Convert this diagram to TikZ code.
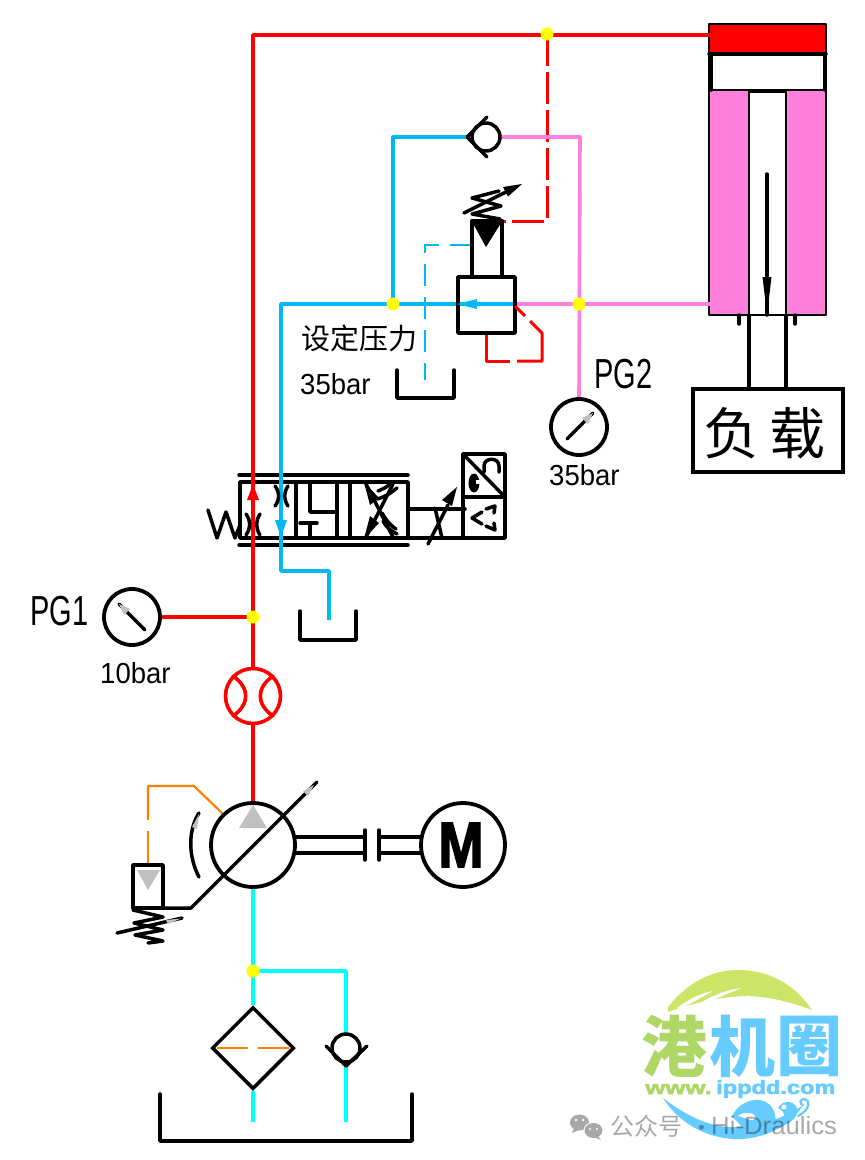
\documentclass[tikz,border=0pt]{standalone}
\usepackage{fontspec}
\usetikzlibrary{shapes.geometric}
\setmainfont{Liberation Sans}
\newfontfamily\cjk{Noto Sans CJK SC}
\newfontfamily\heavy[BoldFeatures={FakeBold=2.5}]{Liberation Sans}
\definecolor{pinkL}{HTML}{FF80DC}
\definecolor{blueL}{HTML}{00B9F2}
\definecolor{cyanL}{HTML}{00FFFF}
\definecolor{yellowJ}{HTML}{FFFF00}
\definecolor{orangeL}{HTML}{FF8000}
\definecolor{greyT}{HTML}{C0C0C0}
\definecolor{logoG}{HTML}{AED768}
\definecolor{logoL}{HTML}{CCE566}
\definecolor{logoB}{HTML}{66CCFF}
\definecolor{markG}{HTML}{A8A8A8}
\tikzset{
  blk/.style={draw=black,line width=3.5pt,line cap=round,line join=round},
  thin blk/.style={draw=black,line width=2pt,line cap=round,line join=round},
  redl/.style={draw=red,line width=3.6pt,line join=round},
  pinkl/.style={draw=pinkL,line width=3.6pt,line join=round},
  bluel/.style={draw=blueL,line width=3.6pt,line join=round},
  cyanl/.style={draw=cyanL,line width=3.6pt,line join=round},
  redpilot/.style={draw=red,line width=3pt,line join=round},
  ring/.style={circle,draw=black,line width=3.8pt,fill=white,inner sep=0pt},
  junc/.style={circle,fill=yellowJ,inner sep=0pt,minimum size=13pt},
  lab/.style={inner sep=0pt,font=\fontsize{29}{29}\selectfont,xscale=.95},
  pglab/.style={inner sep=0pt,font=\fontsize{42}{42}\selectfont,xscale=.69},
}
\begin{document}
\begin{tikzpicture}[x=1pt,y=-1pt]
\useasboundingbox (0,0) rectangle (865,1160);
\fill[white] (0,0) rectangle (865,1160);

% named points
\coordinate (j1) at (253,617);
\coordinate (j2) at (393,304);
\coordinate (j3) at (579,304);
\coordinate (j4) at (253,971);
\coordinate (j5) at (547,34);
\coordinate (cylR) at (710,35);
\coordinate (cylP) at (710,304);
\coordinate (rvR) at (515,304);
\coordinate (rvP) at (502,221);

% ---------- logo
\fill[logoL] (668,1007) .. controls (688,982) and (712,970) .. (738,970)
  .. controls (770,970) and (795,985) .. (812,1010)
  .. controls (795,1004) and (775,997) .. (748,996)
  .. controls (725,996) and (695,1002) .. (668,1012) -- cycle;
\fill[white] (677,1008) .. controls (690,998) and (702,993) .. (713,991) .. controls (702,997) and (692,1003) .. (680,1009) -- cycle;
\fill[white] (702,1002) .. controls (715,994) and (730,989) .. (742,988) .. controls (730,992) and (718,998) .. (707,1003) -- cycle;
\fill[white] (735,1001) .. controls (740,998) and (746,996) .. (749,995) .. controls (746,997) and (742,1000) .. (738,1002) -- cycle;
\node[inner sep=0pt,text=logoG,font=\cjk\bfseries\fontsize{66}{66}\selectfont] (lg1) at (674,1046) {港};
\node[inner sep=0pt,text=logoB,font=\cjk\bfseries\fontsize{66}{66}\selectfont] (lg2) at (742,1046) {机};
\node[inner sep=0pt,text=logoB,font=\cjk\bfseries\fontsize{66}{66}\selectfont] (lg3) at (809,1046) {圈};
\node[inner sep=0pt,anchor=west,font=\heavy\bfseries\fontsize{19}{19}\selectfont,text=logoG,xscale=1.36] (lg4) at (645,1089) {www.};
\node[inner sep=0pt,anchor=west,font=\heavy\bfseries\fontsize{19}{19}\selectfont,text=logoB,xscale=1.24] (lg5) at (716,1089) {ippdd.com};
\fill[logoB] (663,1098) .. controls (685,1115) and (710,1128) .. (735,1127)
  .. controls (760,1126) and (785,1118) .. (803,1105)
  .. controls (790,1128) and (760,1140) .. (735,1139)
  .. controls (705,1138) and (678,1122) .. (663,1098) -- cycle;
\fill[white] (672,1100) .. controls (685,1107) and (700,1116) .. (718,1121) .. controls (700,1119) and (685,1110) .. (672,1100) -- cycle;
\fill[logoB] (732,1116) .. controls (738,1104) and (750,1099) .. (760,1100)
  .. controls (772,1102) and (778,1113) .. (775,1130) -- (745,1130) -- cycle;
\fill[white] (738,1116) .. controls (744,1111) and (755,1112) .. (756,1118) .. controls (752,1122) and (748,1119) .. (745,1118) -- cycle;
\fill[logoB] (776,1128) .. controls (788,1120) and (786,1112) .. (778,1108) .. controls (782,1100) and (794,1100) .. (797,1108) .. controls (799,1116) and (792,1124) .. (776,1128) -- cycle;
\fill[white] (784,1107) circle[radius=2.5pt];
\draw[logoB,line width=2.2pt,line cap=round] (798,1116) .. controls (810,1110) and (811,1100) .. (804,1099) .. controls (800,1099) and (799,1104) .. (803,1105);

% ---------- cylinder
\fill[red] (709,24) rectangle (826,54);
\fill[pinkL] (709,90) rectangle (749,315);
\fill[pinkL] (786,90) rectangle (826,315);
\draw[thin blk] (709,24) rectangle (826,315);
\draw[blk] (711,54) -- (711,90) (825,54) -- (825,90);
\draw[blk] (709,54) -- (826,54);
\draw[blk,line cap=butt] (749,91) -- (786,91);
\draw[thin blk] (709,90) -- (749,90) (786,90) -- (826,90);
\draw[thin blk] (749,90) -- (749,315) (786,90) -- (786,315);
\draw[blk] (739,315) -- (739,324) (795,315) -- (795,324);
\draw[blk,line cap=butt] (749,315) -- (749,388) (786,315) -- (786,388);
\draw[blk] (767,174) -- (767,315);
\fill[black] (762.5,277) -- (771.5,277) -- (767,315) -- cycle;
\node[draw=black,line width=3.6pt,fill=white,minimum width=150pt,minimum height=83pt,inner sep=0pt] (load) at (768,430.5) {};
\node[inner sep=0pt,font=\cjk\fontsize{56}{56}\selectfont] (t1) at (731,433) {负};
\node[inner sep=0pt,font=\cjk\fontsize{56}{56}\selectfont] (t2) at (797,433) {载};

% ---------- supply lines
\node[circle,draw=red,line width=3.6pt,inner sep=0pt,minimum size=55pt] (meter) at (253,696) {};
\node[ring,minimum size=84pt] (pump) at (253,845) {};
\node[ring,minimum size=84pt] (motor) at (463,845) {};
\draw[redl] (pump.north) -- (meter.south);
\draw[redl] (meter.north) -- (253,35) -- (cylR);
\draw[redpilot,dash pattern=on 32pt off 6pt] (j5) -- (547,221) -- (rvP);
\draw[draw=red,line width=3.6pt,line cap=round] (233,676) .. controls (250,688) and (250,704) .. (233,716);
\draw[draw=red,line width=3.6pt,line cap=round] (273,676) .. controls (256,688) and (256,704) .. (273,716);

% ---------- pressure line
\draw[pinkl] (rvR) -- (cylP);
\node[ring,minimum size=56pt] (pg2) at (579,427) {};
\draw[pinkl] (pg2.north) -- (580,137) -- (500,137);
\draw[bluel] (rvR) -- (281,304) -- (281,571) -- (329,571) -- (329,620);
\draw[bluel] (j2) -- (393,137) -- (467,137);
\draw[draw=blueL,line width=2.2pt,dash pattern=on 22pt off 11pt] (472,245) -- (425,245) -- (425,380);

% ---------- check valve top
\draw[blk] (486,137) circle[radius=14pt];
\draw[blk] (487,117) -- (467,137) -- (487,157);

% ---------- relief valve
\draw[blk] (458,277) rectangle (515,333);
\fill[blueL] (457,304) -- (477,299) -- (477,309) -- cycle;
\draw[blk,line cap=butt] (472,220) -- (472,277) (502,220) -- (502,277);
\fill[black] (470.5,219) -- (503.5,219) -- (486,247) -- cycle;
\draw[redpilot] (486,335) -- (486,361) -- (510,361);
\draw[redpilot] (517,361) -- (542,361) -- (542,333) -- (530,321);
\draw[redpilot] (525,316) -- (515,306);
\draw[blk] (500,219) -- (472,214) -- (501,206) -- (472,198) -- (499,191);
\draw[blk] (464,213) -- (508,191);
\fill[black] (522,184) -- (503,187) -- (508,196.5) -- cycle;
\draw[blk] (397,370) -- (397,398) -- (454,398) -- (454,370);

% ---------- valve
\draw[blk] (239,475) -- (408,475);
\draw[blk] (239,545) -- (408,545);
\draw[blk] (240,482) rectangle (408,538);
\draw[blk] (296,482) -- (296,538);
\draw[blk] (310,482) -- (310,512) -- (337,512);
\draw[blk] (337,482) -- (337,538);
\draw[blk] (350,482) -- (350,538);
\draw[blk] (310,523) -- (310,538);
\draw[blk] (300,523) -- (317,523);
\draw[blk] (208,510) -- (217,538) -- (226,512) -- (235,538) -- (240,525);
% flow arrows (lines drawn over valve)
\draw[redl] (253,35) -- (253,620);
\draw[bluel] (281,470) -- (281,571);
\fill[red] (253,484) -- (247,500) -- (259,500) -- cycle;
\fill[blueL] (281,537) -- (275,520) -- (287,520) -- cycle;
\draw[blk] (275,486) .. controls (280,493) and (280,499) .. (275,506);
\draw[blk] (288,486) .. controls (283.5,493) and (283.5,499) .. (288,506);
\draw[blk] (246,514) .. controls (251,521) and (251,528) .. (246,535);
\draw[blk] (260,514) .. controls (255.5,521) and (255.5,528) .. (260,535);
% cross
\draw[blk] (366,484) -- (393,537);
\draw[blk] (393,484) -- (366,537);
\fill[black] (364,482) -- (379,498) -- (370,505) -- cycle;
\fill[black] (364,539) -- (379,523) -- (370,516) -- cycle;
\draw[blk] (377,499) .. controls (385,497) and (391,493) .. (397,488);
\draw[blk] (378,491) .. controls (383,489) and (387,487) .. (390,484);
\draw[blk] (383,521) .. controls (386,527) and (391,531) .. (397,534);
\draw[blk] (382,513) .. controls (386,520) and (391,526) .. (396,529);
% control
\draw[blk] (408,509) -- (465,509);
\draw[blk] (408,538) -- (465,538);
\draw[blk] (428,544) -- (448,505);
\fill[black] (457,487) -- (442,500) -- (452,506) -- cycle;
\draw[blk] (435,508) -- (442,538);
\draw[blk] (463,454) rectangle (505,538);
\draw[blk] (463,497) -- (505,497);
\draw[blk] (464,455) -- (505,497);
\draw[blk] (484,472) -- (484,466) .. controls (484,457) and (499,457) .. (499,466) -- (499,472);
\fill[black] (474,483) ellipse[x radius=5.5pt,y radius=9.5pt];
\fill[white] (476,480) rectangle (480,484);
\draw[blk] (482,512) -- (472,518) -- (482,524);
\draw[blk] (486,509) -- (495,506) -- (494,513);
\draw[blk] (494,523) -- (495,530) -- (486,526);

% ---------- tanks
\draw[blk] (300,611) -- (300,640) -- (356,640) -- (356,611);
\draw[blk] (160,1094) -- (160,1141) -- (412,1141) -- (412,1094);

% ---------- PG1
\node[ring,minimum size=56pt] (pg1) at (132,617) {};
\draw[redl] (pg1.east) -- (j1);
\draw[blk] (145,630) -- (119,604);
\fill[greyT] (119,604) -- (130,609) -- (124,615) -- cycle;
% PG2 needle
\draw[blk] (567,439) -- (593,413);
\fill[greyT] (593,413) -- (588,424) -- (582,418) -- cycle;

% ---------- pump
\fill[greyT] (253,805) -- (239,828) -- (267,828) -- cycle;
\draw[blk] (133,908) -- (191,908) -- (317,782);
\fill[greyT] (314,785) -- (303,791) -- (308,796) -- cycle;
\draw[blk] (199,877) .. controls (189,858) and (187,832) .. (199,813);
\fill[greyT] (199,814) -- (192,827) -- (197,829) -- cycle;
\draw[blk,line cap=butt] (295,837) -- (365,837) (295,853) -- (365,853);
\draw[blk] (365,830) -- (365,860);
\draw[blk] (379,830) -- (379,860);
\draw[blk,line cap=butt] (379,837) -- (421,837) (379,853) -- (421,853);
\node[inner sep=0pt,font=\heavy\bfseries\fontsize{64}{64}\selectfont,xscale=.85] (mm) at (461,845) {M};
\draw[draw=orangeL,line width=2.2pt,line join=round] (148,820) -- (148,786) -- (194,786) -- (222,813);
\draw[draw=orangeL,line width=2.2pt] (148,831) -- (148,866);
\draw[blk] (133,865) rectangle (163,908);
\fill[greyT] (137,870) -- (160,870) -- (148,890) -- cycle;
\draw[blk] (133,910) -- (163,917) -- (134,923) -- (163,930) -- (135,935) -- (163,941) -- (148,943);
\draw[blk] (117,933) -- (182,918);
\fill[greyT] (181,918.5) -- (166,920) -- (168,924) -- cycle;

% ---------- suction
\node[diamond,draw=black,line width=3.5pt,inner sep=0pt,minimum size=82pt,aspect=1] (filter) at (253,1048) {};
\draw[cyanl] (pump.south) -- (filter.north);
\draw[cyanl] (j4) -- (346,971) -- (346,1035);
\draw[cyanl] (filter.south) -- (253,1122);
\draw[cyanl] (346,1066) -- (346,1122);
\draw[blk] (346,1048) circle[radius=14pt];
\draw[blk] (326,1046) -- (346,1066) -- (367,1046);
\draw[draw=orangeL,line width=2.2pt] (217,1048) -- (248,1048) (258,1048) -- (289,1048);

% ---------- junctions
\node[junc] at (j1) {};
\node[junc] at (j2) {};
\node[junc] at (j3) {};
\node[junc] at (j4) {};
\node[junc] at (j5) {};

% ---------- text
\node[pglab,anchor=west] (l1) at (30,611) {PG1};
\node[pglab,anchor=west] (l2) at (594,374) {PG2};
\node[lab,anchor=west] (l3) at (100,673) {10bar};
\node[lab,anchor=west] (l4) at (300,384) {35bar};
\node[lab,anchor=west] (l5) at (549,475) {35bar};
\node[inner sep=0pt,anchor=west,font=\cjk\fontsize{29}{29}\selectfont] (l6) at (301,338) {设定压力};

% ---------- watermark
\fill[markG] (579.5,1122.5) ellipse[x radius=9.5pt,y radius=8pt];
\fill[markG] (574,1128) -- (572,1133) -- (579,1130) -- cycle;
\fill[white] (593.5,1130.5) ellipse[x radius=10pt,y radius=8.5pt];
\fill[markG] (593.5,1130.5) ellipse[x radius=9pt,y radius=7.5pt];
\fill[markG] (598,1136) -- (601,1140) -- (594,1137) -- cycle;
\fill[white] (576,1120) circle[radius=1.4pt] (583,1120) circle[radius=1.4pt];
\fill[white] (590,1129) circle[radius=1.2pt] (597,1129) circle[radius=1.2pt];
\node[inner sep=0pt,anchor=west,text=black,text opacity=.34,font=\cjk\fontsize{24}{24}\selectfont] (w1) at (610,1126) {公众号};
\node[inner sep=0pt,anchor=center,text=black,text opacity=.34,font=\cjk\fontsize{23}{23}\selectfont] (w2) at (702,1131) {·};
\node[inner sep=0pt,anchor=west,text=black,text opacity=.34,font=\fontsize{25}{25}\selectfont,xscale=1.03] (w3) at (711,1126) {Hi-Draulics};
\end{tikzpicture}
\end{document}
